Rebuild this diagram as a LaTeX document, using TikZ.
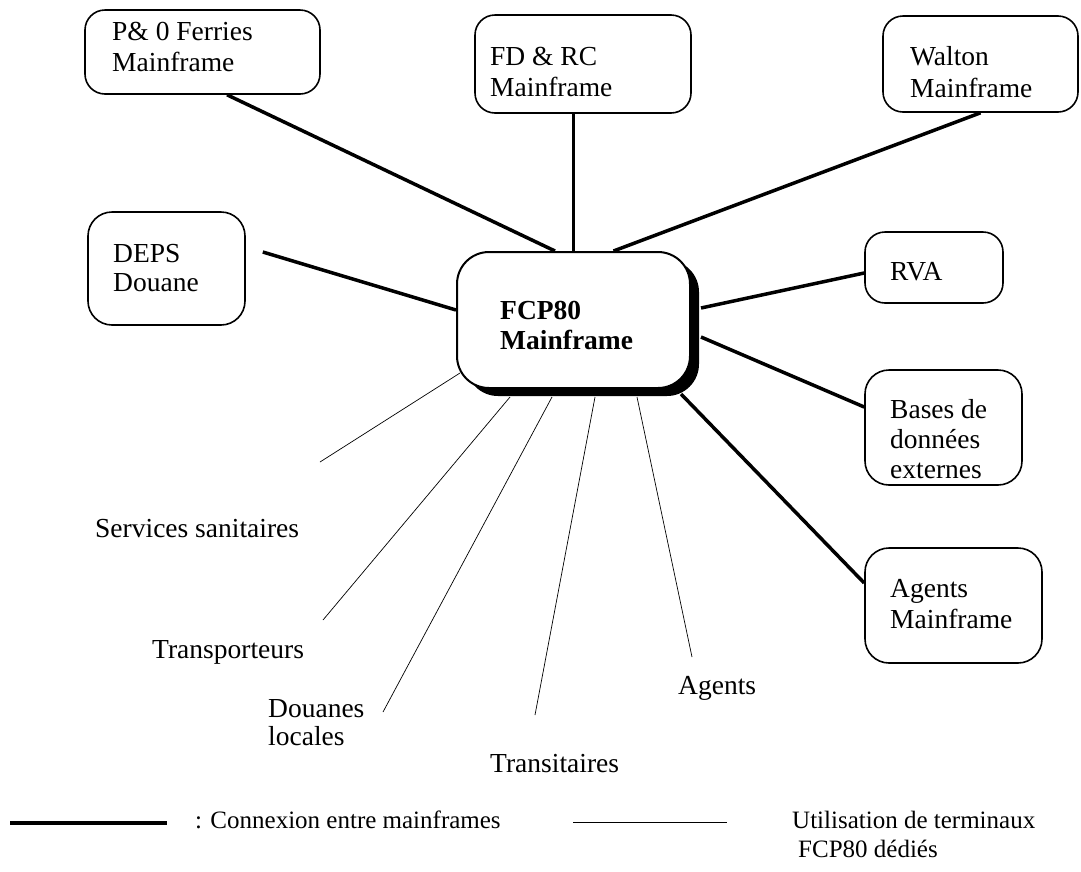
\documentclass[tikz,border=0pt]{standalone}
\usepackage{fontspec}
\setmainfont{Liberation Serif}
\usetikzlibrary{shadows}
\begin{document}
\begin{tikzpicture}[x=1pt,y=-1pt,
  box/.style={draw, line width=1.6pt, rounded corners=20pt, rectangle, inner sep=0pt, fill=white},
  lbl/.style={anchor=base west, inner sep=0pt, font=\fontsize{27.5}{31}\selectfont},
  boldlbl/.style={anchor=base west, inner sep=0pt, font=\fontsize{27.5}{31}\selectfont\bfseries},
  leglbl/.style={anchor=base west, inner sep=0pt, font=\fontsize{25}{30}\selectfont},
  mainlink/.style={line width=3.5pt},
  termlink/.style={line width=0.7pt}]
\useasboundingbox (0,0) rectangle (1081,871);

% boxes
\node[box, minimum width=235pt, minimum height=84pt] (po) at (202.5,52) {};
\node[box, minimum width=216pt, minimum height=98pt] (fd) at (583,64) {};
\node[box, minimum width=195pt, minimum height=96pt] (wa) at (980.5,64) {};
\node[box, rounded corners=24pt, minimum width=157pt, minimum height=113pt] (de) at (166.5,268.5) {};
\node[box, line width=2pt, rounded corners=32pt, minimum width=233pt, minimum height=136pt,
      drop shadow={shadow xshift=9pt, shadow yshift=-8pt, fill=black, opacity=1}] (fc) at (573.5,320) {};
\node[box, minimum width=138pt, minimum height=71pt] (rv) at (934,267.5) {};
\node[box, rounded corners=24pt, minimum width=157pt, minimum height=115pt] (ba) at (943.5,427.5) {};
\node[box, rounded corners=24pt, minimum width=177pt, minimum height=115pt] (ag) at (953.5,605.5) {};

% box texts
\node[lbl] (po1) at (112,40) {P\& 0 Ferries};
\node[lbl] (po2) at (112,71) {Mainframe};
\node[lbl] (fd1) at (490,65) {FD \& RC};
\node[lbl] (fd2) at (490,96) {Mainframe};
\node[lbl] (wa1) at (910,65) {Walton};
\node[lbl] (wa2) at (910,97) {Mainframe};
\node[lbl] (de1) at (113,262) {DEPS};
\node[lbl] (de2) at (113,291) {Douane};
\node[boldlbl] (fc1) at (500,319) {FCP80};
\node[boldlbl] (fc2) at (500,349) {Mainframe};
\node[lbl] (rv1) at (890,280) {RVA};
\node[lbl] (ba1) at (890,418) {Bases de};
\node[lbl] (ba2) at (890,448) {données};
\node[lbl] (ba3) at (890,478) {externes};
\node[lbl] (ag1) at (890,597) {Agents};
\node[lbl] (ag2) at (890,628) {Mainframe};

% mainframe connections
\draw[mainlink] ([xshift=24.5pt]po.south) -- ([xshift=-18.5pt]fc.north);
\draw[mainlink] (fd.south -| fc.north) -- (fc.north);
\draw[mainlink] (wa.south) -- ([xshift=40pt]fc.north);
\draw[mainlink] ([xshift=17pt,yshift=16.5pt]de.east) -- ([yshift=10pt]fc.west);
\draw[mainlink] ([xshift=10pt,yshift=12pt]fc.east) -- ([yshift=-5.5pt]rv.west);
\draw[mainlink] ([xshift=10pt,yshift=-17pt]fc.east) -- ([yshift=20.5pt]ba.west);
\draw[mainlink] ([xshift=-10pt,yshift=-5pt]fc.south east) -- ([yshift=22.5pt]ag.west);

% terminal users
\coordinate (ssE) at (320,462);
\coordinate (tpE) at (323,620);
\coordinate (dlE) at (383,712);
\coordinate (tsE) at (535,715);
\coordinate (agE) at (692,657);
\draw[termlink] ([xshift=4pt,yshift=-53pt]fc.west) -- (ssE);
\draw[termlink] ([xshift=-63.5pt,yshift=-8pt]fc.south) -- (tpE);
\draw[termlink] ([xshift=-21.5pt,yshift=-8pt]fc.south) -- (dlE);
\draw[termlink] ([xshift=21.5pt,yshift=-8pt]fc.south) -- (tsE);
\draw[termlink] ([xshift=63.5pt,yshift=-8pt]fc.south) -- (agE);

\node[lbl] (ss) at (95,537) {Services sanitaires};
\node[lbl] (tp) at (152,658) {Transporteurs};
\node[lbl] (dl1) at (268,717) {Douanes};
\node[lbl] (dl2) at (268,745) {locales};
\node[lbl] (ts) at (490,772) {Transitaires};
\node[lbl] (agt) at (678,694) {Agents};

% legend
\coordinate (lgA) at (10,823);
\coordinate (lgB) at (167,823);
\draw[mainlink] (lgA) -- (lgB);
\node[leglbl] (lg1) at (195,828) {: Connexion entre mainframes};
\coordinate (lgC) at (573,822);
\coordinate (lgD) at (727,822);
\draw[termlink, line width=1pt] (lgC) -- (lgD);
\node[leglbl] (lg2) at (792,828) {Utilisation de terminaux};
\node[leglbl] (lg3) at (798,857) {FCP80 dédiés};
\end{tikzpicture}
\end{document}
